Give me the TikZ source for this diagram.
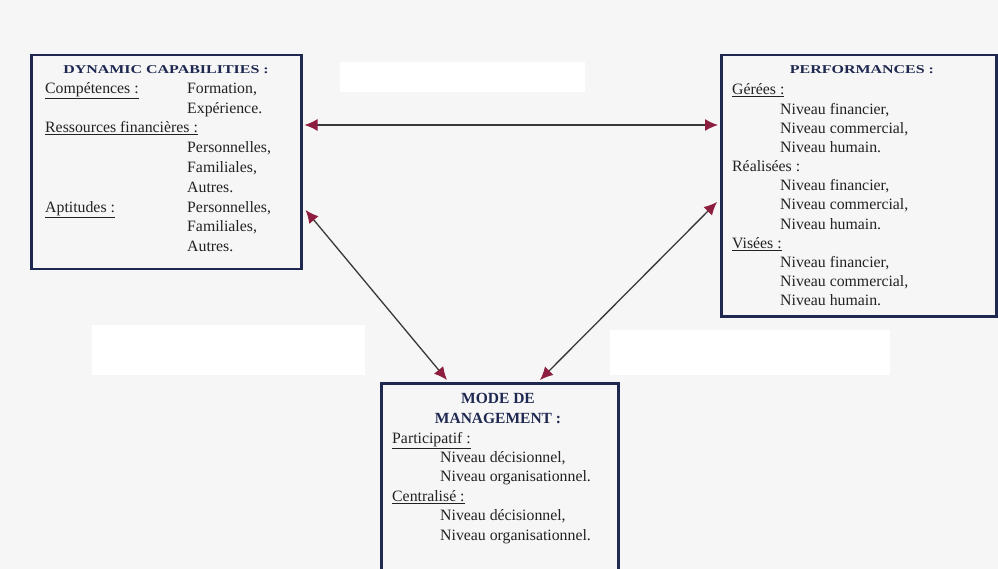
\documentclass[tikz,border=0pt]{standalone}
\usepackage{fontspec}
\setmainfont{Liberation Serif}
\newfontfamily\ttlfont[FakeStretch=1.33]{Liberation Serif}
\usetikzlibrary{arrows.meta,calc}
\definecolor{navy}{HTML}{1E2850}
\definecolor{tipred}{HTML}{8E1E40}
\definecolor{ink}{HTML}{222222}
\definecolor{bg}{HTML}{F6F6F6}
\tikzset{
  box/.style={draw=navy, line width=2.5pt, rectangle, inner sep=0pt, anchor=north west},
  txt/.style={inner sep=0pt, anchor=base west, text=ink},
  ttl/.style={inner sep=0pt, anchor=base, text=navy},
  link/.style={draw=ink!90, line width=1.3pt,
    {Latex[length=13pt,width=12pt,color=tipred]}-{Latex[length=13pt,width=12pt,color=tipred]}}
}
\begin{document}
\begin{tikzpicture}[x=1pt,y=-1pt]
\fill[bg] (0,0) rectangle (998,569);
\useasboundingbox (0,0) rectangle (998,569);
\fill[white] (340,62) rectangle (585,92);
\fill[white] (92,325) rectangle (365,375);
\fill[white] (610,330) rectangle (890,375);

% boxes
\node[box, minimum width=270pt, minimum height=214pt] (dyn) at (30,54) {};
\node[box, minimum width=275pt, minimum height=261pt] (perf) at (720,54) {};
\node[box, minimum width=237pt, minimum height=200pt] (mode) at (380,382) {};

% left box
\node[ttl] (dynT) at (166,74) {\ttlfont\fontsize{12}{14}\selectfont\bfseries DYNAMIC CAPABILITIES :};
\node[txt, font=\fontsize{15.8}{19.8}\selectfont] (dynC) at (45,93.3) {\begin{tabular}[t]{@{}p{142pt}@{}l@{}}
\underline{Compétences :} & Formation,\\
 & Expérience.\\
\multicolumn{2}{@{}l@{}}{\underline{Ressources financières :}}\\
 & Personnelles,\\
 & Familiales,\\
 & Autres.\\
\underline{Aptitudes :} & Personnelles,\\
 & Familiales,\\
 & Autres.
\end{tabular}};

% right box
\node[ttl] (perfT) at (862,74) {\ttlfont\fontsize{12}{14}\selectfont\bfseries PERFORMANCES :};
\node[txt, font=\fontsize{15.8}{19.15}\selectfont] (perfC) at (732,95) {\begin{tabular}[t]{@{}p{48pt}@{}l@{}}
\multicolumn{2}{@{}l@{}}{\underline{Gérées :}}\\
 & Niveau financier,\\
 & Niveau commercial,\\
 & Niveau humain.\\
\multicolumn{2}{@{}l@{}}{Réalisées :}\\
 & Niveau financier,\\
 & Niveau commercial,\\
 & Niveau humain.\\
\multicolumn{2}{@{}l@{}}{\underline{Visées :}}\\
 & Niveau financier,\\
 & Niveau commercial,\\
 & Niveau humain.
\end{tabular}};

% bottom box
\node[ttl, align=center, font=\fontsize{15.5}{20}\selectfont\bfseries] (modeT) at (498,403) {MODE DE};
\node[ttl, font=\fontsize{15.5}{20}\selectfont\bfseries] (modeT2) at (498,423) {MANAGEMENT :};
\node[txt, font=\fontsize{15.8}{19.4}\selectfont] (modeC) at (392,443) {\begin{tabular}[t]{@{}p{48pt}@{}l@{}}
\multicolumn{2}{@{}l@{}}{\underline{Participatif :}}\\
 & Niveau décisionnel,\\
 & Niveau organisationnel.\\
\multicolumn{2}{@{}l@{}}{\underline{Centralisé :}}\\
 & Niveau décisionnel,\\
 & Niveau organisationnel.
\end{tabular}};

% connectors
\draw[link] ($(dyn.north east)+(2,71)$) -- ($(perf.north west)+(-2,71)$);
\draw[link] ($(dyn.north east)+(3,156)$) -- ($(mode.north west)+(67,-2)$);
\draw[link] ($(perf.north west)+(-3,148)$) -- ($(mode.north west)+(160,-2)$);
\end{tikzpicture}
\end{document}
